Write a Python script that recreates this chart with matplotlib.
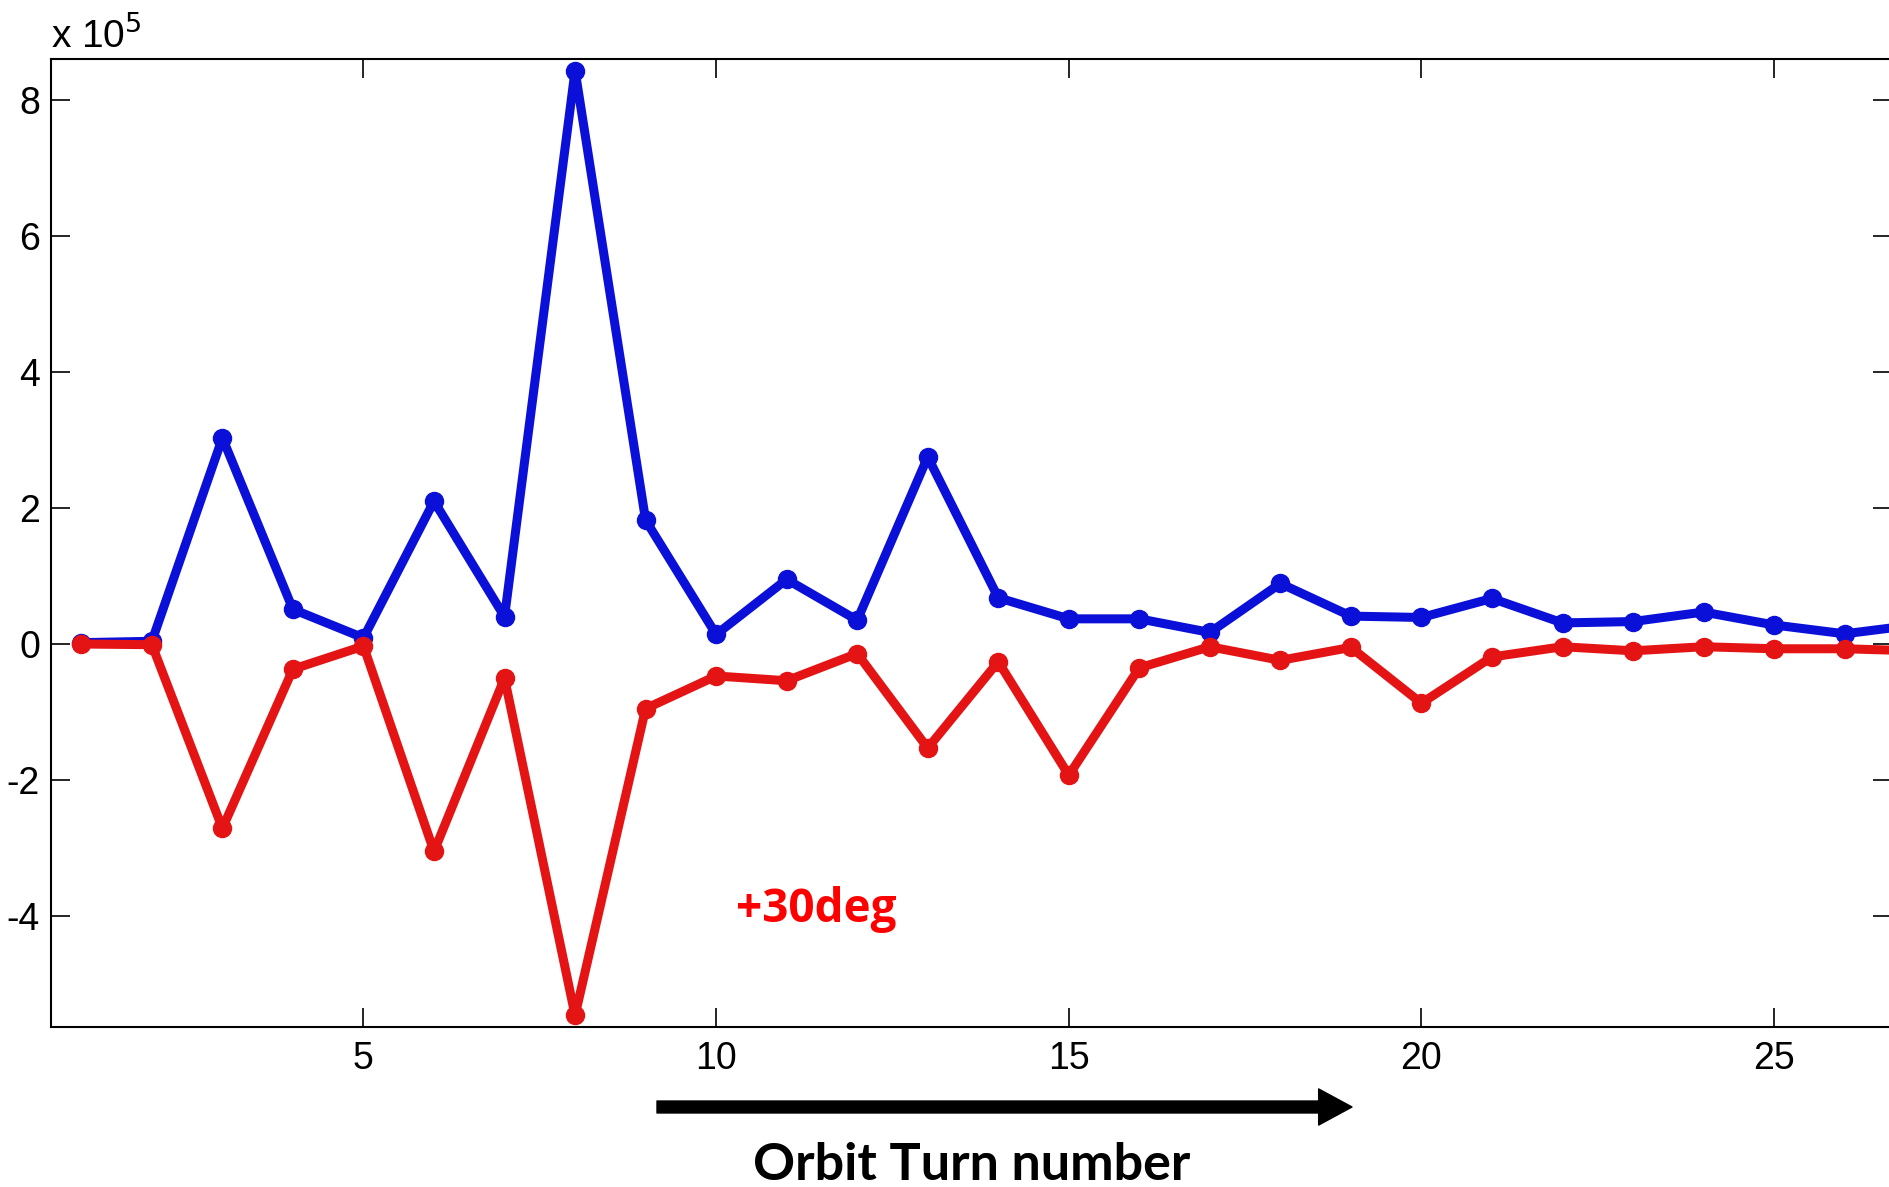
import matplotlib.pyplot as plt
import numpy as np
from matplotlib.patches import FancyArrowPatch

# 数据（单位: x 10^5）
turns = np.arange(1, 28)
blue_vals = [0.02, 0.04, 3.03, 0.51, 0.09, 2.10, 0.40, 8.43, 1.82, 0.14,
             0.95, 0.35, 2.75, 0.68, 0.37, 0.37, 0.17, 0.89, 0.41, 0.39,
             0.67, 0.31, 0.33, 0.47, 0.28, 0.15, 0.28]
red_vals = [0.0, -0.01, -2.71, -0.37, -0.03, -3.05, -0.50, -5.46, -0.95, -0.47,
            -0.54, -0.14, -1.53, -0.26, -1.93, -0.35, -0.04, -0.24, -0.05, -0.87,
            -0.19, -0.04, -0.10, -0.04, -0.07, -0.07, -0.10]
x_ticks = [5, 10, 15, 20, 25]
y_ticks = [-4, -2, 0, 2, 4, 6, 8]

plt.rcParams['axes.unicode_minus'] = False

fig = plt.figure(figsize=(18.9, 11.87), dpi=100)
ax = fig.add_axes([0.027, 0.1348, 0.974, 0.8155])

# 两条曲线
ax.plot(turns, blue_vals, color='#0a10d8', linewidth=6.5, marker='o',
        markersize=13, zorder=3)
ax.plot(turns, red_vals, color='#e41414', linewidth=6.5, marker='o',
        markersize=13, zorder=4)

ax.set_xlim(0.57, 26.67)
ax.set_ylim(-5.63, 8.60)
ax.set_xticks(x_ticks)
ax.set_yticks(y_ticks)

ax.tick_params(direction='in', length=14, width=1.2, top=True, right=True,
               labelsize=27, pad=8)
ax.tick_params(axis='x', pad=10)
for lbl in ax.get_xticklabels() + ax.get_yticklabels():
    lbl.set_family('Liberation Sans')
for sp in ax.spines.values():
    sp.set_linewidth(1.5)

# 科学计数法标记
ax.text(0.0, 1.004, r'x 10$^{5}$', transform=ax.transAxes, fontsize=28,
        family='Liberation Sans', ha='left', va='bottom')

# 标注文字
fig.text(0.432, 0.234, '+30deg', color='#ff0000', fontsize=33,
         fontweight='bold', family='Open Sans', ha='center', va='center')
fig.text(0.514, 0.006, 'Orbit Turn number', color='black', fontsize=37.5,
         fontweight='bold', family='Lato', ha='center', va='baseline')

# 箭头
arrow = FancyArrowPatch((657 / 1890, 1 - 1107 / 1187), (1352 / 1890, 1 - 1107 / 1187),
                        transform=fig.transFigure, mutation_scale=1,
                        arrowstyle='simple,head_width=26,head_length=24,tail_width=8.6',
                        color='black', shrinkA=0, shrinkB=0)
fig.patches.append(arrow)

plt.savefig('out.png', dpi=100)
plt.close()
